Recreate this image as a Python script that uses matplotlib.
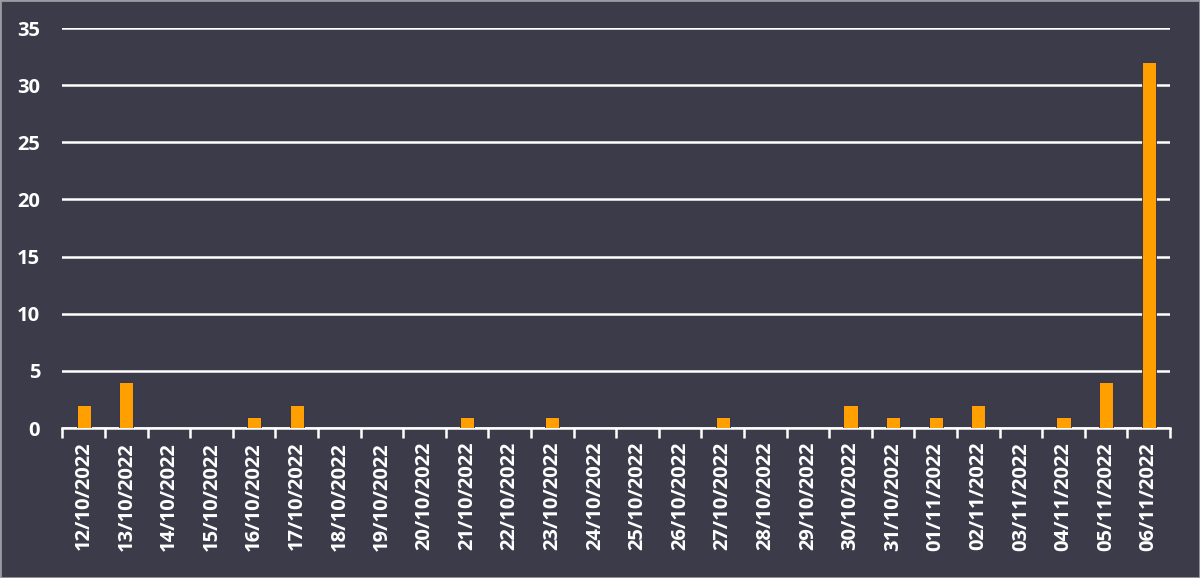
import numpy as np
import matplotlib
matplotlib.use('Agg')
import matplotlib.pyplot as plt
from matplotlib.patches import Rectangle

# Datos
fechas = ['12/10/2022', '13/10/2022', '14/10/2022', '15/10/2022', '16/10/2022',
          '17/10/2022', '18/10/2022', '19/10/2022', '20/10/2022', '21/10/2022',
          '22/10/2022', '23/10/2022', '24/10/2022', '25/10/2022', '26/10/2022',
          '27/10/2022', '28/10/2022', '29/10/2022', '30/10/2022', '31/10/2022',
          '01/11/2022', '02/11/2022', '03/11/2022', '04/11/2022', '05/11/2022',
          '06/11/2022']
valores = [2, 4, 0, 0, 1, 2, 0, 0, 0, 1, 0, 1, 0, 0, 0, 1, 0, 0, 2, 1,
           1, 2, 0, 1, 4, 32]
y_ticks = [0, 5, 10, 15, 20, 25, 30, 35]

fondo = '#3c3b4a'
naranja = '#ffa000'

plt.rcParams['font.family'] = ['Open Sans', 'DejaVu Sans']

fig = plt.figure(figsize=(12, 5.78), dpi=100)
fig.patch.set_facecolor(fondo)
ax = fig.add_axes([0.052, 0.2595, 0.923, 0.692])
ax.set_facecolor(fondo)

x = np.arange(len(fechas))
ax.bar(x, valores, width=0.33, color=naranja, edgecolor='#2a2d55', linewidth=0.6, zorder=3)

ax.set_xlim(-0.5, len(fechas) - 0.5)
ax.set_ylim(0, 35)
ax.set_yticks(y_ticks)
ax.yaxis.grid(True, color='white', linewidth=1.8, zorder=0)
ax.set_axisbelow(True)

for s in ['top', 'right', 'left']:
    ax.spines[s].set_visible(False)
ax.spines['bottom'].set_color('white')
ax.spines['bottom'].set_linewidth(1.8)

ax.set_xticks(x)
ax.set_xticklabels(fechas, rotation=90)
ax.set_xticks(np.arange(-0.5, len(fechas)), minor=True)
ax.tick_params(axis='x', which='major', length=0, pad=10, labelsize=14.5, labelcolor='white')
ax.tick_params(axis='x', which='minor', length=7, width=1.8, color='white')
ax.tick_params(axis='y', length=0, pad=16, labelsize=14.5, labelcolor='white')
for lbl in ax.get_xticklabels() + ax.get_yticklabels():
    lbl.set_fontweight('bold')

# Borde de la figura
fig.patches.append(Rectangle((0, 0), 1, 1, transform=fig.transFigure, fill=False,
                             edgecolor='#9a9aa2', linewidth=2))

fig.savefig('out.png', dpi=100, facecolor=fondo)
